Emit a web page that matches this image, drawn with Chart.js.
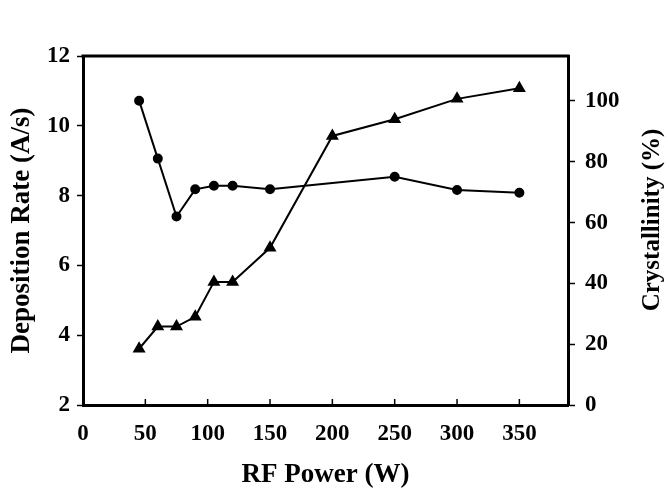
<!DOCTYPE html>
<html>
<head>
<meta charset="utf-8">
<script src="https://cdn.jsdelivr.net/npm/chart.js@4/dist/chart.umd.min.js"></script>
<style>
  body { margin: 0; background: #fff; }
  canvas { display: block; }
</style>
</head>
<body>
<canvas id="myChart" width="669" height="492"></canvas>
<script>
  // RF power (W) for each series
  const powerRate = [45, 60, 75, 90, 105, 120, 150, 250, 300, 350];
  const depositionRate = [10.72, 9.06, 7.40, 8.18, 8.28, 8.28, 8.18, 8.54, 8.16, 8.08];

  const powerCryst = [45, 60, 75, 90, 105, 120, 150, 200, 250, 300, 350];
  const crystallinity = [18.5, 25.8, 25.8, 29.0, 40.5, 40.5, 51.7, 88.5, 94.0, 100.7, 104.2];

  const xTicks = [0, 50, 100, 150, 200, 250, 300, 350];
  const leftTicks = [2, 4, 6, 8, 10, 12];
  const rightTicks = [0, 20, 40, 60, 80, 100];

  const serif = 'Liberation Serif';
  const tickFont = { family: serif, size: 23, weight: 'bold' };
  const titleFont = { family: serif, size: 27, weight: 'bold' };

  const toPoints = (xs, ys) => xs.map((x, i) => ({ x: x, y: ys[i] }));

  // top frame line, inward x ticks, right-hand title
  const framePlugin = {
    id: 'frame',
    afterDraw(chart) {
      const { ctx, chartArea } = chart;
      const xs = chart.scales.x;
      ctx.save();
      ctx.strokeStyle = '#000';
      ctx.lineWidth = 3;
      ctx.beginPath();
      ctx.moveTo(chartArea.left - 1.5, chartArea.top);
      ctx.lineTo(chartArea.right + 1.5, chartArea.top);
      ctx.stroke();

      ctx.lineWidth = 1.5;
      xs.ticks.forEach((t, i) => {
        const px = xs.getPixelForTick(i);
        ctx.beginPath();
        ctx.moveTo(px, chartArea.bottom);
        ctx.lineTo(px, chartArea.bottom - 6);
        ctx.stroke();
      });

      ctx.fillStyle = '#000';
      ctx.font = 'bold 25px "Liberation Serif"';
      ctx.textAlign = 'center';
      ctx.textBaseline = 'middle';
      ctx.translate(653, 220);
      ctx.rotate(-Math.PI / 2);
      ctx.fillText('Crystallinity (%)', 0, 0);
      ctx.restore();
    }
  };

  const ctx = document.getElementById('myChart').getContext('2d');

  new Chart(ctx, {
    type: 'line',
    data: {
      datasets: [{
        label: 'Deposition Rate',
        data: toPoints(powerRate, depositionRate),
        yAxisID: 'y',
        borderColor: '#000',
        backgroundColor: '#000',
        borderWidth: 2,
        pointStyle: 'circle',
        pointRadius: 4,
        tension: 0
      }, {
        label: 'Crystallinity',
        data: toPoints(powerCryst, crystallinity),
        yAxisID: 'y1',
        borderColor: '#000',
        backgroundColor: '#000',
        borderWidth: 2,
        pointStyle: 'triangle',
        pointRadius: 5.5,
        tension: 0
      }]
    },
    options: {
      responsive: false,
      animation: false,
      devicePixelRatio: 1,
      layout: { padding: { top: 56, left: 0, right: 0, bottom: 0 } },
      plugins: {
        legend: { display: false },
        tooltip: { enabled: false }
      },
      scales: {
        x: {
          type: 'linear',
          min: 0,
          max: 389,
          afterFit: (s) => { s.height = 87; },
          afterBuildTicks: (s) => { s.ticks = xTicks.map(v => ({ value: v })); },
          ticks: { font: tickFont, color: '#000', padding: 15, includeBounds: false, maxRotation: 0 },
          grid: { display: false, drawTicks: false },
          border: { color: '#000', width: 3 },
          title: { display: true, text: 'RF Power (W)', font: titleFont, color: '#000', padding: { bottom: 1 } }
        },
        y: {
          position: 'left',
          min: 2,
          max: 12,
          afterFit: (s) => { s.width = 83; },
          afterBuildTicks: (s) => { s.ticks = leftTicks.map(v => ({ value: v })); },
          ticks: { font: tickFont, color: '#000', padding: 7 },
          grid: { drawOnChartArea: false, drawTicks: true, tickLength: 6, tickColor: '#000', tickWidth: 1.5 },
          border: { color: '#000', width: 3 },
          title: { display: true, text: 'Deposition Rate (A/s)', font: titleFont, color: '#000', padding: { top: 6 } }
        },
        y1: {
          position: 'right',
          min: 0,
          max: 114.8,
          afterFit: (s) => { s.width = 101; },
          afterBuildTicks: (s) => { s.ticks = rightTicks.map(v => ({ value: v })); },
          ticks: { font: tickFont, color: '#000', padding: 10 },
          grid: { drawOnChartArea: false, drawTicks: true, tickLength: 7, tickColor: '#000', tickWidth: 1.5 },
          border: { color: '#000', width: 3 }
        }
      }
    },
    plugins: [framePlugin]
  });
</script>
</body>
</html>
